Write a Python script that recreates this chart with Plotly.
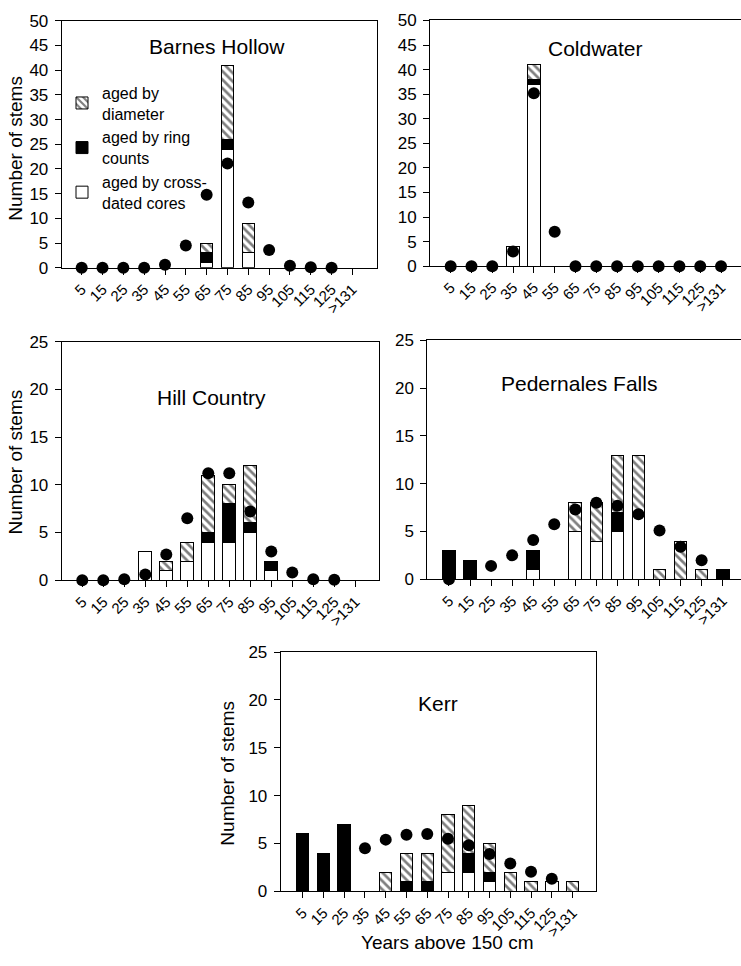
import plotly.graph_objects as go

# ---------------- data ----------------
categories = ["5", "15", "25", "35", "45", "55", "65", "75", "85", "95", "105", "115", "125", ">131"]

barnes_cores = [0, 0, 0, 0, 0, 0, 1, 24, 3, 0, 0, 0, 0, 0]
barnes_rings = [0, 0, 0, 0, 0, 0, 2, 2, 0, 0, 0, 0, 0, 0]
barnes_diam = [0, 0, 0, 0, 0, 0, 2, 15, 6, 0, 0, 0, 0, 0]
barnes_dots = [0, 0, 0, 0, 0.6, 4.5, 14.8, 21.1, 13.2, 3.6, 0.4, 0.1, 0, None]

cold_cores = [0, 0, 0, 4, 37, 0, 0, 0, 0, 0, 0, 0, 0, 0]
cold_rings = [0, 0, 0, 0, 1, 0, 0, 0, 0, 0, 0, 0, 0, 0]
cold_diam = [0, 0, 0, 0, 3, 0, 0, 0, 0, 0, 0, 0, 0, 0]
cold_dots = [0, 0, 0, 3.0, 35.2, 7.0, 0, 0, 0, 0, 0, 0, 0, 0]

hill_cores = [0, 0, 0, 3, 1, 2, 4, 4, 5, 1, 0, 0, 0, 0]
hill_rings = [0, 0, 0, 0, 0, 0, 1, 4, 1, 1, 0, 0, 0, 0]
hill_diam = [0, 0, 0, 0, 1, 2, 6, 2, 6, 0, 0, 0, 0, 0]
hill_dots = [0, 0, 0.1, 0.6, 2.7, 6.5, 11.2, 11.2, 7.2, 3.0, 0.8, 0.1, 0.05, None]

ped_cores = [0, 0, 0, 0, 1, 0, 5, 4, 5, 7, 0, 0, 0, 0]
ped_rings = [3, 2, 0, 0, 2, 0, 0, 0, 2, 0, 0, 0, 0, 1]
ped_diam = [0, 0, 0, 0, 0, 0, 3, 4, 6, 6, 1, 4, 1, 0]
ped_dots = [0, None, 1.4, 2.5, 4.1, 5.75, 7.3, 8.0, 7.7, 6.8, 5.1, 3.4, 2.0, None]

kerr_cores = [0, 0, 0, 0, 0, 0, 0, 2, 2, 1, 0, 0, 1, 0]
kerr_rings = [6, 4, 7, 0, 0, 1, 1, 0, 2, 1, 0, 0, 0, 0]
kerr_diam = [0, 0, 0, 0, 2, 3, 3, 6, 5, 3, 2, 1, 0, 1]
kerr_dots = [None, None, None, 4.5, 5.4, 5.9, 6.0, 5.5, 4.8, 3.9, 2.9, 2.05, 1.3, None]

site_names = ["Barnes Hollow", "Coldwater", "Hill Country", "Pedernales Falls", "Kerr"]
y_max = [50, 50, 25, 25, 25]
legend_names = ["aged by cross-<br>dated cores", "aged by ring<br>counts", "aged by<br>diameter"]

sites = [
    (barnes_cores, barnes_rings, barnes_diam, barnes_dots),
    (cold_cores, cold_rings, cold_diam, cold_dots),
    (hill_cores, hill_rings, hill_diam, hill_dots),
    (ped_cores, ped_rings, ped_diam, ped_dots),
    (kerr_cores, kerr_rings, kerr_diam, kerr_dots),
]

# ---------------- layout (pixels) ----------------
W, H = 741, 966
FONT = "Liberation Sans, Arial, sans-serif"
# x0, x1, ytop, ybottom, xrange, right border
boxes = [
    (61.7, 377, 12, 264, [-0.96, 14.18], True),
    (430, 741, 11.7, 262.3, [-0.995, 13.96], False),
    (61.7, 379, 339.3, 582.7, [-0.98, 14.13], True),
    (427.3, 741, 338, 581.7, [-1.03, 13.87], False),
    (280.7, 596, 656, 900, [-1.06, 14.13], True),
]
title_pos = [(217, 38), (595.5, 40), (211.7, 396.7), (578.7, 381.7), (438, 708.3)]
ytitle_pos = [(15.5, 142), None, (15.5, 462), None, (228, 780)]

fig = go.Figure()
xidx = list(range(len(categories)))


def nz(v):
    return [None if (a is None or a == 0) else a for a in v]


fills = [
    dict(color="white", line=dict(color="black", width=1)),
    dict(color="black", line=dict(color="black", width=1)),
    dict(color="white", line=dict(color="black", width=1),
         pattern=dict(shape="\\", fgcolor="black", bgcolor="white", size=6, solidity=0.45)),
]

for i, (data, name) in enumerate(zip(sites, site_names)):
    n = i + 1
    xa = "x" if n == 1 else f"x{n}"
    ya = "y" if n == 1 else f"y{n}"
    for k in range(3):
        fig.add_trace(go.Bar(
            x=xidx, y=nz(data[k]), xaxis=xa, yaxis=ya, width=0.6,
            marker=fills[k], name=legend_names[k], showlegend=(i == 0),
            legendrank=3 - k, hoverinfo="skip",
        ))
    fig.add_trace(go.Scatter(
        x=xidx, y=data[3], xaxis=xa, yaxis=ya, mode="markers",
        marker=dict(color="black", size=12), cliponaxis=False, showlegend=False,
    ))

    x0, x1, yt, yb, xr, rb = boxes[i]
    common = dict(showline=True, linecolor="black", linewidth=1, ticks="outside",
                  ticklen=6, tickwidth=1, tickcolor="black", showgrid=False, zeroline=False)
    fig.layout[f"xaxis{'' if n == 1 else n}"] = dict(
        domain=[x0 / W, x1 / W], range=xr, anchor=ya,
        tickmode="array", tickvals=xidx, ticktext=categories, tickangle=-45,
        mirror=True, tickfont=dict(family=FONT, size=15, color="black"), **common)
    fig.layout[f"yaxis{'' if n == 1 else n}"] = dict(
        domain=[1 - yb / H, 1 - yt / H], range=[0, y_max[i]], anchor=xa,
        tickmode="linear", tick0=0, dtick=5, mirror=rb, ticklabelstandoff=3,
        tickfont=dict(family=FONT, size=17, color="black"), **common)

    tx, ty = title_pos[i]
    fig.add_annotation(text=name, x=tx / W, y=1 - ty / H, xref="paper", yref="paper",
                       showarrow=False, xanchor="center", yanchor="middle",
                       font=dict(family=FONT, size=21, color="black"))
    if ytitle_pos[i]:
        px, py = ytitle_pos[i]
        fig.add_annotation(text="Number of stems", x=px / W, y=1 - py / H, xref="paper",
                           yref="paper", showarrow=False, textangle=-90,
                           xanchor="center", yanchor="middle",
                           font=dict(family=FONT, size=19, color="black"))

fig.add_annotation(text="Years above 150 cm", x=447 / W, y=1 - 952 / H, xref="paper",
                   yref="paper", showarrow=False, xanchor="center", yanchor="middle",
                   font=dict(family=FONT, size=19, color="black"))

fig.update_layout(
    width=W, height=H, margin=dict(l=0, r=0, t=0, b=0),
    paper_bgcolor="white", plot_bgcolor="white", barmode="stack", bargap=0.4,
    showlegend=True,
    legend=dict(x=62 / W, y=1 - 68 / H, xanchor="left", yanchor="top",
                bgcolor="rgba(0,0,0,0)", font=dict(family=FONT, size=16, color="black"),
                traceorder="normal", itemwidth=30),
)

fig.write_html("out.html")
